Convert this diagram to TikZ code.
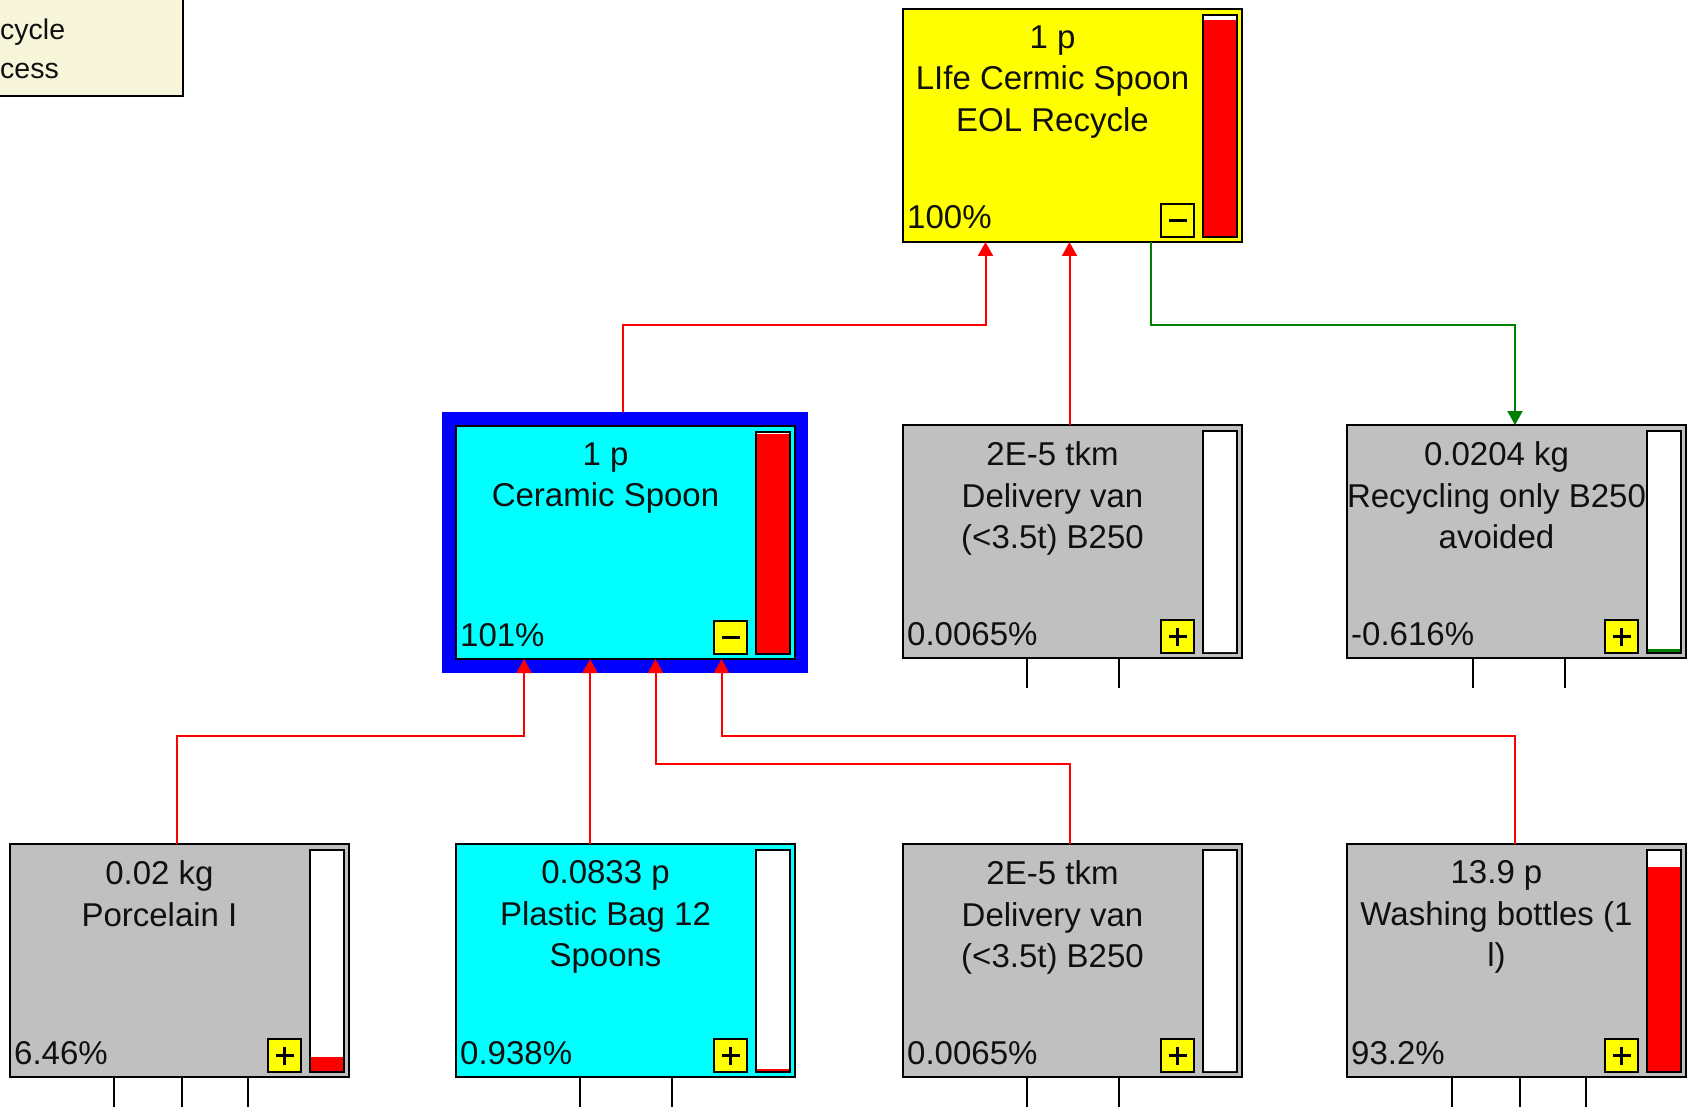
\documentclass[tikz,border=0pt]{standalone}
\usepackage{fontspec}
\setmainfont{Liberation Sans}
\usetikzlibrary{calc,arrows.meta}
\definecolor{pyellow}{HTML}{FFFF00}
\definecolor{pcyan}{HTML}{00FFFF}
\definecolor{pgray}{HTML}{C0C0C0}
\definecolor{pblue}{HTML}{0000FF}
\definecolor{pred}{HTML}{FF0000}
\definecolor{pgreen}{HTML}{008000}
\definecolor{pcream}{HTML}{F8F6DA}
\definecolor{ptext}{HTML}{101010}
\tikzset{
  pbox/.style={draw=black, line width=2.5pt, minimum width=339pt, minimum height=233pt,
    inner sep=0pt, outer sep=0pt, anchor=north west},
  ttl/.style={anchor=north, align=center, inner sep=0pt, text=ptext,
    font=\fontsize{33}{41.5}\selectfont},
  pct/.style={anchor=base west, inner sep=0pt, text=ptext, font=\fontsize{33}{41.5}\selectfont},
  sgn/.style={draw=black, line width=2pt, fill=pyellow, minimum size=33pt, inner sep=0pt, outer sep=0pt},
  barf/.style={draw=black, line width=2.5pt, fill=white, minimum width=34pt, minimum height=222pt,
    inner sep=0pt, outer sep=0pt},
  redc/.style={draw=pred, line width=2pt, -{Triangle[width=15pt,length=14pt]}},
  grnc/.style={draw=pgreen, line width=2pt, -{Triangle[width=15pt,length=14pt]}},
  stub/.style={draw=black, line width=2pt},
  legbox/.style={draw=black, line width=2pt, fill=pcream, minimum width=186pt, minimum height=99pt,
    inner sep=0pt, outer sep=0pt, anchor=north west},
  legtxt/.style={anchor=base west, inner sep=0pt, text=ptext, font=\fontsize{28.5}{37}\selectfont}
}
\newcommand{\procnode}[9]{%
  \node[pbox, fill=#4] (#1) at (#2,#3) {};
  \node[ttl] (#1-t) at ($(#1.north west)+(149.5,16.5)$) {#5};
  \node[pct] (#1-p) at ($(#1.south west)+(4,-13)$) {#6};
  \node[sgn] (#1-s) at ($(#1.south east)+(-64.5,-21.5)$) {};
  \draw[line width=2.5pt] ($(#1-s.center)+(-9,0)$) -- ($(#1-s.center)+(9,0)$);
  \ifnum#7=1 \draw[line width=2.5pt] ($(#1-s.center)+(0,-9)$) -- ($(#1-s.center)+(0,9)$);\fi
  \node[barf] (#1-b) at ($(#1.east)+(-22,0.5)$) {};
  \fill[#9] ($(#1-b.south west)+(1.25,-1.25)$) rectangle ($(#1-b.south east)+(-1.25,{-1.25-#8*219})$);
}
\begin{document}
\begin{tikzpicture}[x=1pt,y=-1pt]
\useasboundingbox (0,0) rectangle (1687,1107);
\clip (0,0) rectangle (1687,1107);
\fill[white] (0,0) rectangle (1687,1107);

% legend (partly outside the view)
\node[legbox] (leg) at (-3,-3) {};
\node[legtxt] (leg-a) at (0,40) {cycle};
\node[legtxt] (leg-b) at (0,79) {cess};

% process boxes
\procnode{top}{903}{9}{pyellow}{1 p\\LIfe Cermic Spoon\\EOL Recycle}{100\%}{0}{0.985}{pred}
\node[fill=pblue, minimum width=366pt, minimum height=261pt, inner sep=0pt, outer sep=0pt,
  anchor=north west] (cerf) at (442,412) {};
\procnode{cer}{456}{426}{pcyan}{1 p\\Ceramic Spoon}{101\%}{0}{1}{pred}
\procnode{van1}{903}{425}{pgray}{2E-5 tkm\\Delivery van\\(<3.5t) B250}{0.0065\%}{1}{0}{white}
\procnode{rec}{1347}{425}{pgray}{0.0204 kg\\Recycling only B250\\avoided}{-0.616\%}{1}{0.012}{pgreen}
\procnode{por}{10}{844}{pgray}{0.02 kg\\Porcelain I}{6.46\%}{1}{0.0646}{pred}
\procnode{bag}{456}{844}{pcyan}{0.0833 p\\Plastic Bag 12\\Spoons}{0.938\%}{1}{0.0094}{pred}
\procnode{van2}{903}{844}{pgray}{2E-5 tkm\\Delivery van\\(<3.5t) B250}{0.0065\%}{1}{0}{white}
\procnode{wash}{1347}{844}{pgray}{13.9 p\\Washing bottles (1\\l)}{93.2\%}{1}{0.932}{pred}

% connectors
\draw[redc] ($(cerf.north west)+(180.5,0)$) |- ($(top.south west)+(82.5,83)$) -- ($(top.south west)+(82.5,0)$);
\draw[redc] ($(van1.north west)+(166.5,0)$) -- ($(top.south west)+(166.5,0)$);
\draw[grnc] ($(top.south west)+(248,0)$) |- ($(rec.north west)+(168,-100)$) -- ($(rec.north west)+(168,0)$);
\draw[redc] ($(por.north west)+(166.5,0)$) |- ($(cer.south west)+(68,77)$) -- ($(cer.south west)+(68,0)$);
\draw[redc] ($(bag.north west)+(134,0)$) -- ($(cer.south west)+(134,0)$);
\draw[redc] ($(van2.north west)+(166.5,0)$) |- ($(cer.south west)+(199.5,105)$) -- ($(cer.south west)+(199.5,0)$);
\draw[redc] ($(wash.north west)+(167.5,0)$) |- ($(cer.south west)+(265.5,77)$) -- ($(cer.south west)+(265.5,0)$);

% stubs below boxes
\foreach \n/\d in {van1/124, van1/216, rec/126, rec/218, bag/124, bag/216, van2/124, van2/216,
                   por/104, por/172, por/238, wash/105, wash/173, wash/239}{
  \draw[stub] ($(\n.south west)+(\d,0)$) -- ++(0,30);
}
\end{tikzpicture}
\end{document}
